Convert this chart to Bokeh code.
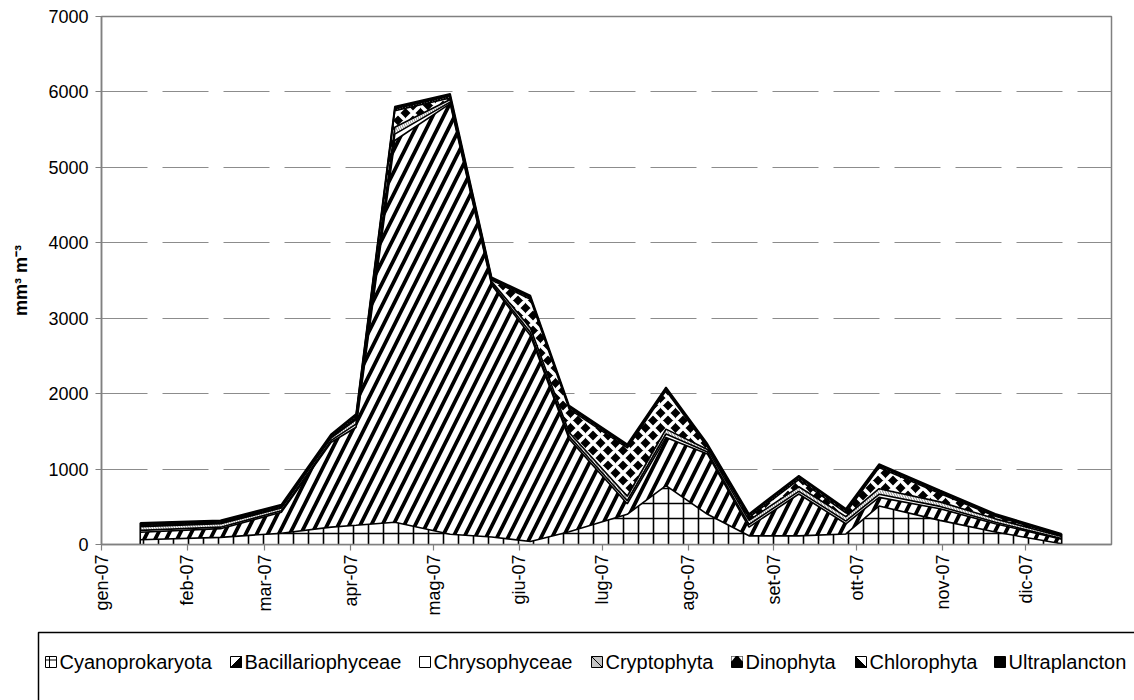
import numpy as np
import pandas as pd
from bokeh.plotting import figure
from bokeh.models import ColumnDataSource, Range1d, FixedTicker
from bokeh.core.properties import value
from bokeh.embed import file_html
from bokeh.resources import INLINE

# ---------------- data ----------------
dates = ["2007-01-15", "2007-02-13", "2007-03-07", "2007-03-25", "2007-04-03", "2007-04-17",
         "2007-05-07", "2007-05-22", "2007-06-05", "2007-06-19", "2007-07-10", "2007-07-24",
         "2007-08-08", "2007-08-23", "2007-09-10", "2007-09-27", "2007-10-09", "2007-10-31",
         "2007-11-20", "2007-12-14"]
cyanoprokaryota = [62, 95, 150, 230, 255, 296, 135, 100, 40, 170, 400, 780, 400, 115, 115, 140, 510, 320, 165, 10]
bacillariophyceae = [100, 115, 278, 1125, 1300, 5060, 5710, 3340, 2730, 1230, 140, 640, 800, 115, 555, 135, 115, 155, 110, 60]
chrysophyceae = [25, 20, 20, 25, 40, 85, 20, 20, 40, 35, 40, 45, 25, 35, 35, 35, 40, 30, 20, 10]
cryptophyta = [50, 45, 35, 35, 60, 90, 35, 25, 60, 50, 60, 65, 35, 55, 60, 60, 75, 60, 45, 25]
dinophyta = [15, 10, 10, 10, 25, 220, 20, 20, 380, 310, 640, 510, 30, 40, 95, 50, 280, 110, 35, 10]
chlorophyta = [15, 15, 17, 20, 28, 25, 25, 19, 25, 25, 25, 25, 25, 25, 30, 30, 25, 22, 15, 12]
ultraplancton = [22, 20, 20, 20, 25, 31, 32, 20, 25, 23, 25, 21, 20, 22, 23, 24, 23, 21, 18, 15]

names = ["Cyanoprokaryota", "Bacillariophyceae", "Chrysophyceae", "Cryptophyta",
         "Dinophyta", "Chlorophyta", "Ultraplancton"]
month_labels = ["gen-07", "feb-07", "mar-07", "apr-07", "mag-07", "giu-07",
                "lug-07", "ago-07", "set-07", "ott-07", "nov-07", "dic-07"]
y_ticks = [0, 1000, 2000, 3000, 4000, 5000, 6000, 7000]

# ---------------- styles ----------------
FONT = "Liberation Sans"
fills = ["white", "white", "white", "white", "black", "white", "black"]
patterns = ["cross", "right_diagonal_line", None, "left_diagonal_line", "diagonal_cross",
            "left_diagonal_line", None]
hcolors = ["black", "black", "black", "#8a8a8a", "white", "black", "black"]
hscales = [15, 22, 12, 5, 15, 6, 12]
hweights = [1.6, 3.8, 1, 1, 3.6, 2, 1]

origin = pd.Timestamp("2007-01-01")
x = (pd.to_datetime(dates) - origin).days.astype(float).tolist()
month_days = [(d - origin).days for d in pd.date_range("2007-01-01", periods=12, freq="MS")]

series = [cyanoprokaryota, bacillariophyceae, chrysophyceae, cryptophyta,
          dinophyta, chlorophyta, ultraplancton]
data = {"x": x}
for n, s in zip(names, series):
    data[n] = s
src = ColumnDataSource(data)
total = np.sum(np.array(series, dtype=float), axis=0)

# ---------------- main chart ----------------
p = figure(width=1134, height=628, x_range=Range1d(0, 365), y_range=Range1d(0, 7000),
           output_backend="svg", toolbar_location=None,
           min_border_left=101, min_border_right=23, min_border_top=16, min_border_bottom=84)

p.varea_stack(stackers=names, x="x", source=src, fill_color=fills,
              hatch_pattern=patterns, hatch_color=hcolors,
              hatch_scale=hscales, hatch_weight=hweights)
p.vline_stack(stackers=names, x="x", source=src, line_color="black", line_width=1.6)
p.segment(x0=[x[0], x[-1]], y0=[0, 0], x1=[x[0], x[-1]], y1=[total[0], total[-1]],
          line_color="black", line_width=1.6)

p.outline_line_color = "#808080"
p.outline_line_width = 1.5
p.xgrid.visible = False
p.ygrid.ticker = FixedTicker(ticks=y_ticks)
p.ygrid.grid_line_color = "#8c8c8c"
p.ygrid.grid_line_width = 1
p.ygrid.grid_line_dash = "46 15"

p.yaxis.ticker = FixedTicker(ticks=y_ticks)
p.xaxis.ticker = FixedTicker(ticks=month_days)
p.xaxis.major_label_overrides = {d: l for d, l in zip(month_days, month_labels)}
p.xaxis.major_label_orientation = np.pi / 2
for ax in (p.xaxis, p.yaxis):
    ax.axis_line_color = "#808080"
    ax.axis_line_width = 1.5
    ax.major_tick_line_color = "#808080"
    ax.major_tick_line_width = 1.2
    ax.major_tick_out = 6
    ax.major_tick_in = 0
    ax.minor_tick_line_color = None
    ax.major_label_text_font = FONT
    ax.major_label_text_font_size = "18px"
    ax.major_label_text_color = "black"
p.yaxis.major_label_standoff = 7
p.xaxis.major_label_standoff = 4
p.yaxis.axis_label = "mm³ m⁻³"
p.yaxis.axis_label_text_font = FONT
p.yaxis.axis_label_text_font_style = "bold"
p.yaxis.axis_label_text_font_size = "18px"
p.yaxis.axis_label_text_color = "black"
p.yaxis.axis_label_standoff = 14

# ---------------- legend panel (pixel coordinates) ----------------
lg = figure(width=1134, height=72, x_range=Range1d(0, 1134), y_range=Range1d(72, 0),
            output_backend="svg", toolbar_location=None,
            x_axis_location=None, y_axis_location=None,
            min_border=0, min_border_left=0, min_border_right=0,
            min_border_top=0, min_border_bottom=0)
lg.grid.visible = False
lg.outline_line_color = None
lg.quad(left=38, right=1300, top=4, bottom=120, fill_color=None,
        line_color="black", line_width=1.5)

sw_x = [45, 230, 419, 591, 731, 855, 994]
T, B, S = 28, 39, 11
for i, n in enumerate(names):
    s = sw_x[i]
    box_fill = {"Ultraplancton": "black", "Dinophyta": "black", "Cryptophyta": "#c4c4c4"}.get(n, "white")
    lg.quad(left=s, right=s + S, top=T, bottom=B, fill_color=box_fill,
            line_color="black", line_width=1)
    if n == "Cyanoprokaryota":
        lg.segment(x0=[s + 4, s], y0=[T, T + 3.5], x1=[s + 4, s + S], y1=[B, T + 3.5],
                   line_color="black", line_width=1)
    elif n == "Bacillariophyceae":
        lg.patch(x=[s, s + S, s + S], y=[B, T, B], fill_color="black", line_color="black")
    elif n == "Cryptophyta":
        lg.segment(x0=[s], y0=[T], x1=[s + S], y1=[B], line_color="black", line_width=1)
    elif n == "Dinophyta":
        lg.patches(xs=[[s, s + 4, s], [s + S, s + S - 4, s + S]],
                   ys=[[T, T, T + 5], [T, T, T + 5]], fill_color="white", line_color=None)
    elif n == "Chlorophyta":
        lg.patch(x=[s, s, s + S], y=[T, B, B], fill_color="black", line_color="black")
    lg.text(x=s + 14, y=33.5, text=[n], text_font=value(FONT), text_font_size="20px",
            text_baseline="middle", text_align="left", text_color="black")

open("out.html", "w").write(file_html([p, lg], INLINE))
